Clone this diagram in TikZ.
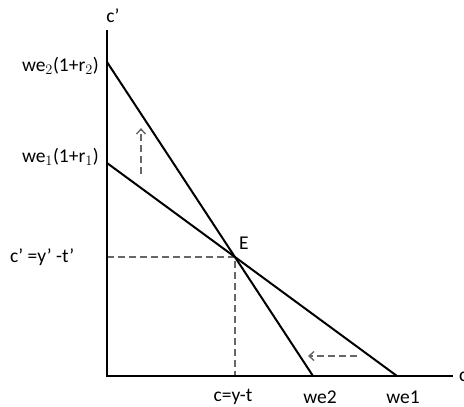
\documentclass[tikz,border=0pt]{standalone}
\usepackage{fontspec}
\setmainfont{Carlito}
\usetikzlibrary{arrows.meta}
\begin{document}
\begin{tikzpicture}[x=1pt,y=-1pt,
  axis/.style={line width=2.4pt},
  budget/.style={line width=2pt},
  guide/.style={dashed,gray!80!black,line width=1.4pt,dash pattern=on 7pt off 4pt},
  movearrow/.style={guide,-{Straight Barb[length=5pt,width=9pt,line width=1.4pt]}},
  lab/.style={font=\fontsize{19.5}{22}\selectfont,inner sep=0pt}]
\useasboundingbox (0,0) rectangle (464,407);
\coordinate (O) at (107,376);
\coordinate (Ytop) at (107,30);
\coordinate (Xend) at (453,376);
\coordinate (A2) at (107,62);
\coordinate (A1) at (107,163);
\coordinate (B2) at (313,376);
\coordinate (B1) at (397,376);
\coordinate (E) at (intersection of A1--B1 and A2--B2);
\coordinate (Ey) at (O |- E);
\coordinate (Ex) at (O -| E);
\draw[guide] (Ey) -- (E) -- (Ex);
\draw[axis] (Ytop) -- (O) -- (Xend);
\draw[budget] (A1) -- (B1);
\draw[budget] (A2) -- (B2);
\coordinate (u0) at (141,174);
\coordinate (u1) at (141,128);
\draw[movearrow] (u0) -- (u1);
\coordinate (l0) at (357,356);
\coordinate (l1) at (308,356);
\draw[movearrow] (l0) -- (l1);
\node[lab] (cp) at (113,16) {c’};
\node[lab,anchor=east] (w2) at (99,66) {we$_2$(1+r$_2$)};
\node[lab,anchor=east] (w1) at (99,157) {we$_1$(1+r$_1$)};
\node[lab,anchor=west] (cy) at (10,257) {c’ =y’ -t’};
\node[lab] (El) at (244,243) {E};
\node[lab] (cx) at (233,397) {c=y-t};
\node[lab] (we2) at (320,397) {we2};
\node[lab] (we1) at (403,397) {we1};
\node[lab,anchor=west] (cc) at (459,377) {c};
\end{tikzpicture}
\end{document}
